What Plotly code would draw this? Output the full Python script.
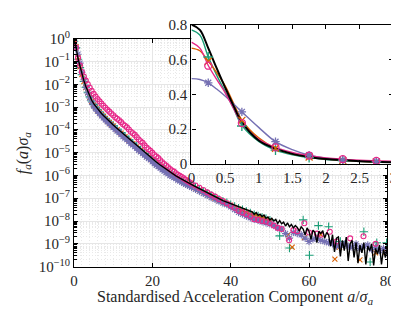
import plotly.graph_objects as go

# ---------------- main panel data (log10 of f_a(a) sigma_a) ----------------
xm = [0, 0.5, 1, 1.5, 2, 2.5, 3, 3.5, 4, 4.5, 5, 5.5, 6, 6.5, 7, 7.5, 8, 8.5, 9, 9.5, 10,
      11, 12, 13, 14, 15, 16, 17, 18, 19, 20, 21, 22, 23, 24, 25, 26, 27, 28, 29, 30,
      31, 32, 33, 34, 35, 36, 37, 38, 39, 40, 41, 42, 43, 44, 45, 46, 47, 48, 49, 50]

green_log = [-0.11, -0.40, -0.90, -1.27, -1.58, -1.87, -2.13, -2.35, -2.55, -2.73, -2.88, -3.00, -3.11, -3.21, -3.31, -3.40, -3.49, -3.58, -3.66, -3.74, -3.82,
             -3.97, -4.12, -4.28, -4.43, -4.58, -4.73, -4.88, -5.03, -5.17, -5.31, -5.44, -5.57, -5.70, -5.82, -5.94, -6.05, -6.15, -6.25, -6.34, -6.43,
             -6.52, -6.61, -6.70, -6.79, -6.88, -6.97, -7.05, -7.13, -7.20, -7.28, -7.36, -7.44, -7.50, -7.58, -7.65, -7.72, -7.78, -7.84, -7.90, -7.96]
orange_log = [-0.18, -0.35, -0.83, -1.24, -1.57, -1.88, -2.15, -2.37, -2.57, -2.75, -2.90, -3.02, -3.13, -3.23, -3.33, -3.42, -3.51, -3.60, -3.68, -3.76, -3.84,
              -3.99, -4.14, -4.30, -4.45, -4.60, -4.75, -4.90, -5.05, -5.19, -5.33, -5.46, -5.59, -5.72, -5.84, -5.96, -6.07, -6.17, -6.27, -6.36, -6.45,
              -6.54, -6.63, -6.72, -6.81, -6.90, -6.99, -7.07, -7.15, -7.22, -7.30, -7.40, -7.48, -7.55, -7.62, -7.70, -7.78, -7.83, -7.88, -7.93, -8.00]
pink_log = [-0.155, -0.39, -0.85, -1.18, -1.46, -1.66, -1.84, -2.00, -2.15, -2.29, -2.42, -2.54, -2.65, -2.75, -2.85, -2.94, -3.03, -3.12, -3.20, -3.28, -3.36,
            -3.51, -3.66, -3.82, -3.98, -4.15, -4.32, -4.50, -4.68, -4.85, -5.01, -5.17, -5.33, -5.50, -5.64, -5.78, -5.90, -6.02, -6.13, -6.24, -6.35,
            -6.44, -6.54, -6.64, -6.74, -6.84, -6.93, -7.03, -7.12, -7.22, -7.32, -7.42, -7.55, -7.62, -7.70, -7.78, -7.92, -7.95, -8.00, -8.02, -8.10]
purple_log = [-0.31, -0.41, -0.68, -1.07, -1.47, -1.78, -2.12, -2.38, -2.60, -2.79, -2.95, -3.07, -3.18, -3.28, -3.38, -3.47, -3.56, -3.65, -3.73, -3.81, -3.89,
              -4.05, -4.20, -4.36, -4.51, -4.66, -4.81, -4.96, -5.11, -5.25, -5.39, -5.55, -5.68, -5.81, -5.93, -6.04, -6.14, -6.24, -6.34, -6.43, -6.52,
              -6.61, -6.70, -6.79, -6.88, -6.97, -7.05, -7.13, -7.21, -7.28, -7.38, -7.50, -7.62, -7.70, -7.78, -7.86, -7.93, -7.97, -8.03, -8.08, -8.13]

# intermediate bins (dense part of the band)
xh = [10.5, 11.5, 12.5, 13.5, 14.5, 15.5, 16.5, 17.5, 18.5, 19.5,
      20.5, 21.5, 22.5, 23.5, 24.5, 25.5, 26.5, 27.5, 28.5, 29.5]
pink_h_log = [-3.45, -3.58, -3.75, -3.89, -4.08, -4.22, -4.42, -4.57, -4.78, -4.92,
              -5.10, -5.24, -5.42, -5.56, -5.72, -5.83, -5.97, -6.07, -6.19, -6.30]
purple_h_log = [-3.98, -4.12, -4.29, -4.43, -4.60, -4.73, -4.90, -5.03, -5.19, -5.31,
                -5.48, -5.61, -5.75, -5.87, -6.00, -6.09, -6.20, -6.29, -6.39, -6.47]

# sparse tail points
green_tail_x = [52.5, 55, 58.5, 60.1, 62.4, 65, 68, 74, 75.6, 77.3, 79.8]
green_tail_log = [-8.65, -9.18, -7.95, -9.50, -8.20, -8.25, -8.90, -8.47, -9.80, -8.95, -8.95]
orange_tail_x = [54.7, 55.7, 58.8, 63, 66.6, 67.8, 73, 77, 79.6]
orange_tail_log = [-8.60, -9.14, -8.73, -8.60, -9.67, -9.14, -9.70, -9.40, -9.36]
pink_tail_x = [51, 52, 53, 54.9, 56, 57, 58.8, 60, 62, 63, 65.3, 67, 70.5, 73.9, 77]
pink_tail_log = [-8.20, -8.30, -8.35, -8.84, -8.40, -8.45, -8.10, -8.50, -8.55, -8.60, -8.47, -8.90, -8.76, -8.67, -9.00]
purple_tail_x = [51, 52, 53, 54, 55, 56, 57, 58, 59, 60, 61, 62, 63, 64, 65,
                 66, 67, 68, 69, 70, 71, 72, 73, 74, 75, 76, 77, 78, 79, 80]
purple_tail_log = [-8.20, -8.30, -8.35, -8.55, -8.75, -8.50, -8.55, -8.60, -8.75, -8.90, -8.80, -8.75, -8.85, -8.90, -8.95,
                   -9.00, -9.10, -9.05, -9.00, -9.10, -9.15, -9.00, -9.20, -9.10, -9.05, -9.25, -9.15, -9.30, -9.20, -9.35]

# black reference line
xb = [0, 0.5, 1, 1.5, 2, 2.5, 3, 3.5, 4, 4.5, 5, 5.5, 6, 6.5, 7, 7.5, 8, 8.5, 9, 9.5, 10,
      11, 12, 13, 14, 15, 16, 17, 18, 19, 20, 21, 22, 23, 24, 25, 26, 27, 28, 29, 30,
      31, 32, 33, 34, 35, 36, 37, 38, 39, 40, 41, 42, 43, 44, 45,
      45.5, 46, 46.5, 47, 47.5, 48, 48.5, 49, 49.5, 50, 50.5, 51, 51.5, 52, 52.5, 53, 53.5, 54, 54.5, 55,
      55.5, 56, 56.5, 57, 57.5, 58, 58.5, 59, 59.5, 60, 60.5, 61, 61.5, 62, 62.5, 63, 63.5, 64, 64.5, 65,
      65.5, 66, 66.5, 67, 67.5, 68, 68.5, 69, 69.5, 70, 70.5, 71, 71.5, 72, 72.5, 73, 73.5, 74, 74.5, 75,
      75.5, 76, 76.5, 77, 77.5, 78, 78.5, 79, 79.5, 80]
black_log = [-0.10, -0.36, -0.87, -1.24, -1.55, -1.84, -2.10, -2.32, -2.52, -2.70, -2.85, -2.97, -3.08, -3.18, -3.28, -3.37, -3.46, -3.55, -3.63, -3.71, -3.79,
             -3.94, -4.09, -4.25, -4.40, -4.55, -4.70, -4.85, -5.00, -5.14, -5.28, -5.41, -5.54, -5.67, -5.79, -5.91, -6.02, -6.12, -6.22, -6.31, -6.40,
             -6.49, -6.58, -6.67, -6.76, -6.85, -6.94, -7.02, -7.10, -7.17, -7.24, -7.31, -7.38, -7.45, -7.52, -7.59,
             -7.60, -7.70, -7.63, -7.75, -7.70, -7.80, -7.74, -7.88, -7.82, -7.95, -7.88, -8.00, -7.93, -8.10, -7.98, -8.12, -8.05, -8.22, -8.08, -8.25,
             -8.15, -8.30, -8.20, -8.28, -8.45, -8.25, -8.35, -8.60, -8.30, -8.45, -8.80, -8.40, -8.50, -8.95, -8.45, -8.55, -8.42, -8.75, -8.50, -8.62,
             -9.10, -8.60, -9.35, -8.75, -8.70, -9.55, -8.85, -9.30, -8.70, -9.75, -9.00, -8.85, -9.60, -8.95, -9.85, -9.05, -9.40, -8.95, -9.90, -9.10,
             -9.30, -9.00, -9.95, -9.20, -9.45, -9.05, -9.90, -9.25, -9.60, -9.15]

# ---------------- inset data ----------------
xi = [0, 0.125, 0.25, 0.375, 0.5, 0.625, 0.75, 1, 1.25, 1.5, 1.75, 2, 2.5, 3]
black_in = [0.80, 0.77, 0.665, 0.55, 0.44, 0.335, 0.24, 0.135, 0.088, 0.058, 0.04, 0.028, 0.016, 0.01]
green_in = [0.77, 0.74, 0.615, 0.51, 0.415, 0.32, 0.222, 0.13, 0.08, 0.053, 0.037, 0.026, 0.015, 0.01]
orange_in = [0.665, 0.65, 0.59, 0.525, 0.45, 0.35, 0.252, 0.15, 0.09, 0.058, 0.04, 0.028, 0.016, 0.01]
pink_in = [0.70, 0.665, 0.565, 0.485, 0.41, 0.32, 0.235, 0.142, 0.095, 0.066, 0.048, 0.035, 0.022, 0.015]
purple_in = [0.49, 0.485, 0.466, 0.43, 0.39, 0.345, 0.299, 0.21, 0.128, 0.082, 0.05, 0.033, 0.018, 0.012]

xim = [0.25, 0.75, 1.25, 1.75, 2.25, 2.75]
green_im = [0.614, 0.218, 0.08, 0.037, 0.02, 0.012]
orange_im = [0.59, 0.25, 0.09, 0.04, 0.02, 0.012]
pink_im = [0.564, 0.235, 0.095, 0.048, 0.028, 0.018]
purple_im = [0.466, 0.299, 0.128, 0.05, 0.023, 0.014]

y_tick_exps = [0, -1, -2, -3, -4, -5, -6, -7, -8, -9, -10]
x_main_ticks = [0, 20, 40, 60, 80]
x_inset_ticks = [0, 0.5, 1, 1.5, 2, 2.5, 3]
x_inset_labels = ["0", "0.5", "1", "1.5", "2", "2.5", "3"]
y_inset_ticks = [0, 0.2, 0.4, 0.6, 0.8]
y_inset_labels = ["0", "0.2", "0.4", "0.6", "0.8"]

GREEN, ORANGE, PINK, PURPLE = "#1b9e77", "#d95f02", "#e7298a", "#7570b3"
FONT = "Liberation Serif"
TXT = "#262626"


def p10(v):
    return [10 ** a for a in v]


fig = go.Figure()

series = [
    (xm + green_tail_x, green_log + green_tail_log, GREEN, "cross-thin-open", 6),
    (xm + orange_tail_x, orange_log + orange_tail_log, ORANGE, "x-thin-open", 5),
    (xm + xh + purple_tail_x, purple_log + purple_h_log + purple_tail_log, PURPLE, "asterisk-open", 6),
    (xm + xh + pink_tail_x, pink_log + pink_h_log + pink_tail_log, PINK, "circle-open", 5),
]
for x, y, c, sym, s in series:
    fig.add_trace(go.Scatter(x=x, y=p10(y), mode="markers", xaxis="x", yaxis="y",
                             marker=dict(symbol=sym, size=s, color=c, line=dict(color=c, width=1.1)),
                             showlegend=False))
fig.add_trace(go.Scatter(x=xb, y=p10(black_log), mode="lines", xaxis="x", yaxis="y",
                         line=dict(color="black", width=1.4), showlegend=False))

# inset traces
for y, c, w in [(green_in, GREEN, 1.4), (orange_in, ORANGE, 1.4), (purple_in, PURPLE, 1.4),
                (pink_in, PINK, 1.4), (black_in, "black", 2)]:
    fig.add_trace(go.Scatter(x=xi, y=y, mode="lines", xaxis="x2", yaxis="y2",
                             line=dict(color=c, width=w, shape="spline"), showlegend=False))
for y, c, sym in [(green_im, GREEN, "cross-thin-open"), (orange_im, ORANGE, "x-thin-open"),
                  (purple_im, PURPLE, "asterisk-open"), (pink_im, PINK, "circle-open")]:
    fig.add_trace(go.Scatter(x=xim, y=y, mode="markers", xaxis="x2", yaxis="y2",
                             marker=dict(symbol=sym, size=7, color=c, line=dict(color=c, width=1.3)),
                             showlegend=False))

W, H = 399, 309
ytv = [10 ** e for e in y_tick_exps]
ytt = ["10<sup>%s</sup>" % (("\u2212%d" % -e) if e < 0 else "0") for e in y_tick_exps]
minor_vals = [m * 10 ** e for e in range(-10, 0) for m in range(2, 10)]
GRID = "#e6e6e6"
MGRID = "#e9e9e9"

fig.update_layout(
    width=W, height=H,
    margin=dict(l=0, r=0, t=0, b=0),
    paper_bgcolor="white", plot_bgcolor="white",
    font=dict(family=FONT, size=15, color=TXT),
    xaxis=dict(domain=[64 / W, 387 / W], anchor="y", range=[0, 80], tickvals=x_main_ticks,
               ticks="inside", ticklen=4, tickcolor="black", mirror="allticks", showline=True,
               linecolor="black", linewidth=1, showgrid=True, gridcolor=GRID, gridwidth=1,
               zeroline=False, tickfont=dict(size=15), ticklabeloverflow="allow",
               minor=dict(dtick=2, showgrid=True, gridcolor=MGRID, griddash="1px,2px", gridwidth=1)),
    yaxis=dict(domain=[1 - 264 / H, 1 - 22 / H], anchor="x", type="log", range=[-10, 0],
               tickmode="array", tickvals=ytv, ticktext=ytt,
               ticks="inside", ticklen=4, tickcolor="black", mirror="allticks", showline=True,
               linecolor="black", linewidth=1, showgrid=True, gridcolor=GRID, zeroline=False,
               tickfont=dict(size=15),
               minor=dict(tickmode="array", tickvals=minor_vals, ticks="inside", ticklen=2.5,
                          tickcolor="black", showgrid=True, gridcolor=MGRID, griddash="1px,2px", gridwidth=1)),
    xaxis2=dict(domain=[185 / W, 393 / W], anchor="y2", range=[0, 3], tickvals=x_inset_ticks,
                ticktext=x_inset_labels,
                ticks="inside", ticklen=4, tickcolor="black", mirror="allticks", showline=True,
                linecolor="black", linewidth=1.2, showgrid=False, zeroline=False, tickfont=dict(size=15)),
    yaxis2=dict(domain=[1 - 155 / H, 1 - 7 / H], anchor="x2", range=[0, 0.8],
                tickvals=y_inset_ticks, ticktext=y_inset_labels,
                ticks="inside", ticklen=4, tickcolor="black", mirror="allticks", showline=True,
                linecolor="black", linewidth=1.2, showgrid=False, zeroline=False, tickfont=dict(size=15)),
    shapes=[dict(type="rect", xref="x2", yref="y2", x0=0, x1=3, y0=0, y1=0.8,
                 fillcolor="white", line=dict(width=0), layer="below")],
    annotations=[
        dict(text="Standardised Acceleration Component <i>a</i>/<i>\u03c3<sub>a</sub></i>",
             xref="paper", yref="paper", x=230 / W, y=1 - 297 / H, showarrow=False,
             xanchor="center", yanchor="middle", font=dict(size=16, color=TXT)),
        dict(text="<i>f<sub>a</sub></i>(<i>a</i>)<i>\u03c3<sub>a</sub></i>",
             xref="paper", yref="paper", x=12 / W, y=1 - 143 / H, showarrow=False, textangle=-90,
             xanchor="center", yanchor="middle", font=dict(size=16, color=TXT)),
    ],
)

fig.write_html("out.html")
